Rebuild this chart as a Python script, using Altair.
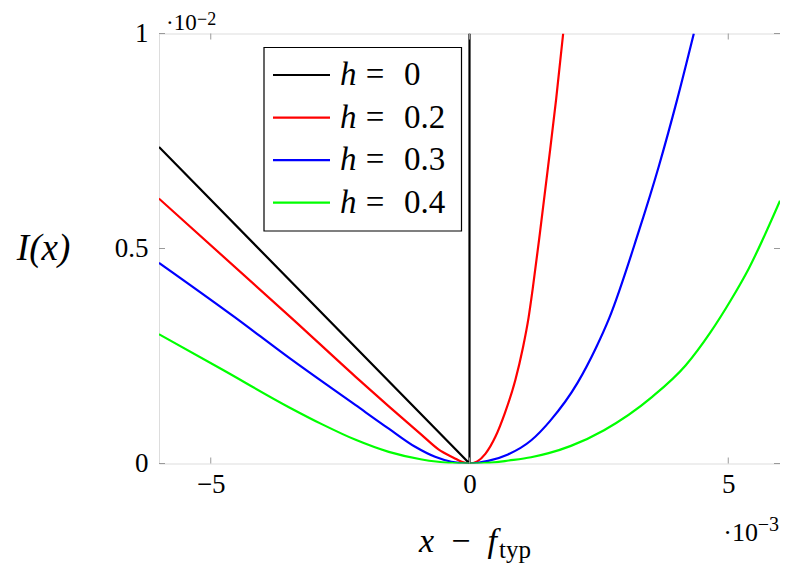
import altair as alt
import pandas as pd

# ---------------- data (x in 1e-3, y in 1e-2) ----------------
series_names = ["h = 0", "h = 0.2", "h = 0.3", "h = 0.4"]
h_values = ["0", "0.2", "0.3", "0.4"]
colors = ["#000000", "#ff0000", "#0000ff", "#00ff00"]

black_x = [-6.0, 0.0, 0.0]
black_y = [0.736, 0.0, 1.0]

red_x = [-6.0, -3.39, -2.2, -0.92, -0.6, -0.3, -0.15, 0.0,
         0.15, 0.31, 0.50, 0.68, 0.886, 1.03, 1.14, 1.22, 1.36, 1.52, 1.675, 1.81]
red_y = [0.616, 0.333, 0.2016, 0.066, 0.033, 0.013, 0.004, 0.0,
         0.005, 0.023, 0.062, 0.116, 0.194, 0.268, 0.338, 0.405, 0.535, 0.692, 0.848, 1.0]

blue_x = [-6.0, -4.544, -3.49, -2.2, -1.56, -1.05, -0.665, -0.35, 0.0,
          0.36, 0.744, 1.194, 1.55, 2.09, 2.44, 2.70, 3.258, 3.66, 4.01, 4.335]
blue_y = [0.4667, 0.341, 0.246, 0.1356, 0.081, 0.0388, 0.0155, 0.004, 0.0,
          0.006, 0.021, 0.054, 0.098, 0.188, 0.268, 0.338, 0.535, 0.692, 0.845, 1.0]

green_x = [-6.0, -4.77, -3.49, -2.845, -2.2, -1.56, -0.92, -0.41, 0.0,
           0.42, 0.76, 1.19, 1.53, 1.96, 2.60, 3.53, 4.175, 4.655, 5.04, 5.39, 6.0]
green_y = [0.3007, 0.218, 0.131, 0.091, 0.055, 0.027, 0.0093, 0.0016, 0.0,
           0.002, 0.007, 0.0145, 0.024, 0.041, 0.0775, 0.155, 0.228, 0.305, 0.378, 0.452, 0.611]

x_ticks = [-5, 0, 5]
y_ticks = [0, 0.5, 1]

# ---------------- tables ----------------
rows = []
for name, xs, ys in zip(series_names,
                        [black_x, red_x, blue_x, green_x],
                        [black_y, red_y, blue_y, green_y]):
    for i, (xv, yv) in enumerate(zip(xs, ys)):
        rows.append({"series": name, "x": xv, "y": yv, "idx": i})
df = pd.DataFrame(rows)
df_black = df[df["series"] == series_names[0]]
df_curves = df[df["series"] != series_names[0]]
legend_df = pd.DataFrame({"series": series_names, "hval": h_values})
xt_df = pd.DataFrame({"t": x_ticks})
yt_df = pd.DataFrame({"t": y_ticks})
one = pd.DataFrame({"k": [0]})

FONT = "Liberation Serif"
W, H = 621, 430

xscale = alt.Scale(domain=[-6, 6], nice=False, zero=False)
yscale = alt.Scale(domain=[0, 1], nice=False, zero=False)
cscale = alt.Scale(domain=series_names, range=colors)

x_axis = alt.Axis(values=x_ticks, ticks=False, domain=False, grid=False,
                  labelFont=FONT, labelFontSize=27, labelPadding=8,
                  labelColor="black", title=None)
x_enc = alt.X("x:Q", scale=xscale, axis=x_axis)
y_enc = alt.Y("y:Q", scale=yscale,
              axis=alt.Axis(values=y_ticks, format="~g", ticks=False, domain=False, grid=False,
                            labelFont=FONT, labelFontSize=27, labelPadding=11,
                            labelColor="black", title="I(x)", titleAngle=0,
                            titleX=-116, titleY=215, titleAlign="center",
                            titleBaseline="middle", titleFont=FONT, titleFontSize=37,
                            titleFontStyle="italic", titleFontWeight="normal",
                            titleColor="black"))
c_enc = alt.Color("series:N", scale=cscale, legend=None)

black_line = alt.Chart(df_black).mark_line(strokeWidth=2.2, clip=True).encode(
    x=x_enc, y=y_enc, color=c_enc, order=alt.Order("idx:Q"))
curves = alt.Chart(df_curves).mark_line(strokeWidth=2.2, clip=True,
                                        interpolate="monotone").encode(
    x=x_enc,
    y=alt.Y("y:Q", scale=yscale, axis=None),
    color=c_enc, order=alt.Order("idx:Q"), detail="series:N")

tick_col = "#9a9a9a"
xt_bottom = alt.Chart(xt_df).mark_rule(color=tick_col, strokeWidth=1).encode(
    x=alt.X("t:Q", scale=xscale, axis=x_axis), y=alt.value(H), y2=alt.value(H - 6))
xt_top = alt.Chart(xt_df).mark_rule(color=tick_col, strokeWidth=1).encode(
    x=alt.X("t:Q", scale=xscale, axis=x_axis), y=alt.value(0), y2=alt.value(6))
yt_left = alt.Chart(yt_df).mark_rule(color=tick_col, strokeWidth=1).encode(
    y=alt.Y("t:Q", scale=yscale, axis=None), x=alt.value(0), x2=alt.value(6))
yt_right = alt.Chart(yt_df).mark_rule(color=tick_col, strokeWidth=1).encode(
    y=alt.Y("t:Q", scale=yscale, axis=None), x=alt.value(W), x2=alt.value(W - 6))

# legend box
box = alt.Chart(one).mark_rect(fill="white", stroke="black", strokeWidth=1.2).encode(
    x=alt.value(105), x2=alt.value(302.5), y=alt.value(14), y2=alt.value(197.5))
yleg = alt.Y("series:N", scale=alt.Scale(domain=series_names, range=[41.5, 169.2],
                                         type="point", padding=0), axis=None)
leg_lines = alt.Chart(legend_df).mark_rule(strokeWidth=2.2).encode(
    x=alt.value(114), x2=alt.value(171), y=yleg,
    color=alt.Color("series:N", scale=cscale, legend=None))
leg_h = alt.Chart(legend_df).mark_text(text="h", align="left", baseline="middle",
                                       font=FONT, fontSize=33, fontStyle="italic",
                                       color="black").encode(x=alt.value(181), y=yleg)
leg_eq = alt.Chart(legend_df).mark_text(text="=", align="center", baseline="middle",
                                        font=FONT, fontSize=33, color="black").encode(
    x=alt.value(216), y=yleg)
leg_val = alt.Chart(legend_df).mark_text(align="left", baseline="middle",
                                         font=FONT, fontSize=33, color="black").encode(
    x=alt.value(245), y=yleg, text="hval:N")

# x-axis title with subscript, and multipliers
xt1 = alt.Chart(one).mark_text(text="x\u2009 − \u2009f", align="right", baseline="alphabetic",
                               font=FONT, fontSize=34, fontStyle="italic",
                               color="black").encode(x=alt.value(338), y=alt.value(518))
xt2 = alt.Chart(one).mark_text(text="typ", align="left", baseline="alphabetic",
                               font=FONT, fontSize=25, color="black").encode(
    x=alt.value(340), y=alt.value(524))
mul_y1 = alt.Chart(one).mark_text(text="·10", align="left", baseline="alphabetic",
                                  font=FONT, fontSize=23, color="black").encode(
    x=alt.value(7), y=alt.value(-3.5))
mul_y2 = alt.Chart(one).mark_text(text="−2", align="left", baseline="alphabetic",
                                  font=FONT, fontSize=18, color="black").encode(
    x=alt.value(38), y=alt.value(-8.5))
mul_x1 = alt.Chart(one).mark_text(text="·10", align="right", baseline="alphabetic",
                                  font=FONT, fontSize=26, color="black").encode(
    x=alt.value(W - 22), y=alt.value(507))
mul_x2 = alt.Chart(one).mark_text(text="−3", align="right", baseline="alphabetic",
                                  font=FONT, fontSize=20, color="black").encode(
    x=alt.value(W - 1), y=alt.value(497))

chart = alt.layer(
    black_line, curves, xt_bottom, xt_top, yt_left, yt_right,
    box, leg_lines, leg_h, leg_eq, leg_val,
    xt1, xt2, mul_y1, mul_y2, mul_x1, mul_x2,
).resolve_scale(y="independent").properties(
    width=W, height=H,
    autosize=alt.AutoSizeParams(type="none"),
    padding={"left": 151, "top": 25.5, "right": 0, "bottom": 100},
).configure_view(stroke="black", strokeWidth=1.2).configure(background="white")

chart.save("out.html", embed_options={"renderer": "svg", "actions": False})
